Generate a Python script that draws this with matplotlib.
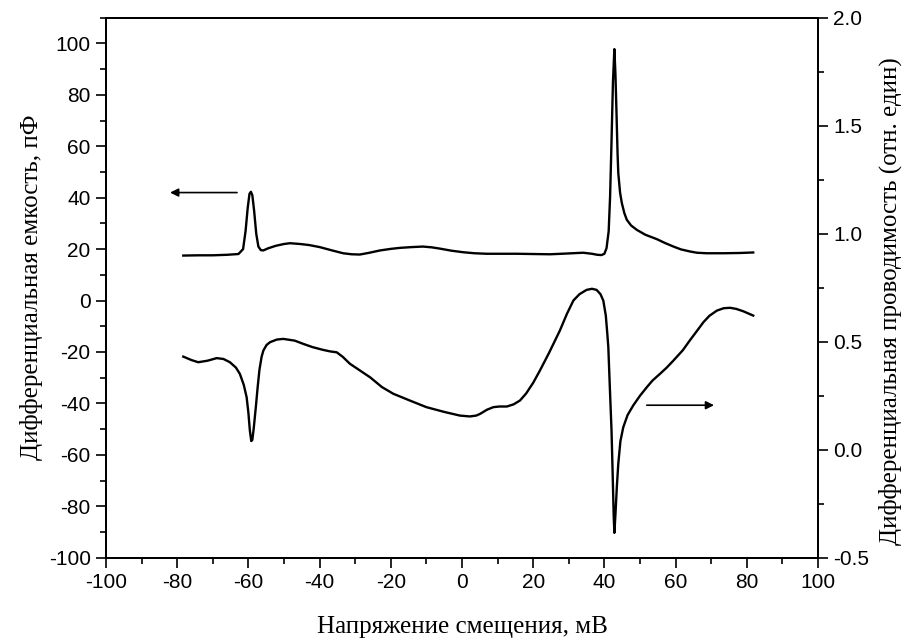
import numpy as np
import matplotlib
matplotlib.use("Agg")
import matplotlib.pyplot as plt
from matplotlib.ticker import MultipleLocator

plt.rcParams["axes.unicode_minus"] = False

# ---------- differential capacitance, pF (left axis) -------------------
cap_v = [-78.3, -74.0, -70.0, -66.0, -62.8, -61.5, -60.8, -60.2, -59.7,
         -59.3, -58.9, -58.4, -57.8, -57.2, -56.5, -55.8, -54.5, -52.3,
         -50.0, -48.3, -45.5, -43.0, -40.0, -36.5, -33.4, -31.0, -28.7,
         -26.0, -23.0, -20.0, -17.4, -14.0, -11.0, -8.5, -6.2, -3.0,
         0.3, 3.5, 6.9, 11.0, 15.4, 20.0, 24.7, 28.0, 31.0, 34.0,
         36.5, 38.0, 39.2, 40.0, 40.6, 41.2, 41.6, 42.0, 42.4, 42.8,
         43.1, 43.4, 43.7, 43.9, 44.4, 44.9, 45.6, 46.3, 47.5, 49.1,
         51.5, 54.7, 57.0, 59.4, 61.5, 64.0, 66.0, 68.7, 73.4, 78.0, 81.8]
cap_pf = [17.5, 17.6, 17.6, 17.8, 18.1, 20.0, 27.0, 36.0, 41.5,
          42.3, 41.0, 35.0, 26.0, 21.0, 19.6, 19.5, 20.3, 21.3,
          22.0, 22.3, 22.0, 21.6, 20.8, 19.5, 18.4, 18.0, 17.9,
          18.6, 19.5, 20.1, 20.5, 20.8, 21.0, 20.7, 20.2, 19.4,
          18.8, 18.4, 18.2, 18.2, 18.2, 18.1, 18.0, 18.2, 18.4, 18.6,
          18.2, 17.8, 17.7, 18.2, 20.4, 27.0, 40.5, 62.0, 85.0, 97.8,
          88.0, 72.9, 57.0, 49.6, 42.0, 37.9, 34.0, 31.4, 29.2, 27.5,
          25.6, 23.9, 22.4, 21.0, 19.9, 19.1, 18.6, 18.4, 18.4, 18.5, 18.7]

# ---------- differential conductance, rel. units (right axis) ----------
cond_v = [-78.3, -76.0, -74.1, -71.5, -68.9, -67.0, -65.2, -63.5, -62.4,
          -61.3, -60.5, -60.0, -59.6, -59.2, -58.9, -58.5, -57.9, -57.4,
          -56.9, -56.3, -55.8, -54.9, -53.9, -52.0, -50.2, -47.0, -44.6,
          -42.0, -39.0, -37.0, -35.2, -33.5, -31.5, -28.7, -25.8, -22.5,
          -19.3, -15.0, -10.0, -5.0, -0.6, 2.2, 4.0, 5.1, 7.0, 8.8,
          10.5, 12.6, 14.5, 16.3, 18.0, 20.0, 21.9, 24.5, 27.5, 29.5,
          31.3, 33.0, 35.0, 36.5, 37.8, 38.9, 39.7, 40.4, 40.8, 41.1,
          41.5, 42.0, 42.3, 42.6, 42.8, 43.1, 43.5, 43.9, 44.5, 45.3,
          46.5, 48.1, 50.0, 51.9, 53.5, 55.6, 57.5, 59.4, 62.0, 64.0,
          66.0, 67.8, 69.5, 71.6, 73.5, 75.3, 77.0, 79.0, 81.8]
cond_g = [0.431, 0.415, 0.405, 0.412, 0.424, 0.420, 0.405, 0.380, 0.351,
          0.300, 0.243, 0.170, 0.090, 0.040, 0.045, 0.100, 0.200, 0.290,
          0.370, 0.430, 0.459, 0.485, 0.498, 0.510, 0.513, 0.505, 0.490,
          0.475, 0.462, 0.455, 0.451, 0.430, 0.398, 0.367, 0.335, 0.290,
          0.259, 0.230, 0.197, 0.175, 0.158, 0.154, 0.158, 0.166, 0.185, 0.197,
          0.200, 0.200, 0.210, 0.228, 0.260, 0.310, 0.367, 0.450, 0.552, 0.630,
          0.691, 0.720, 0.740, 0.745, 0.740, 0.720, 0.690, 0.620, 0.540, 0.475,
          0.300, 0.089, -0.100, -0.300, -0.385, -0.300, -0.170, -0.065, 0.040, 0.104,
          0.160, 0.205, 0.250, 0.289, 0.320, 0.351, 0.380, 0.413, 0.460, 0.506,
          0.550, 0.590, 0.620, 0.644, 0.655, 0.657, 0.652, 0.641, 0.621]

SANS = "Liberation Sans"
SERIF = "Liberation Serif"

fig = plt.figure(figsize=(9.1, 6.44), dpi=100)
ax = fig.add_axes([0.1165, 0.134, 0.7824, 0.8385])
ax2 = ax.twinx()

ax.plot(cap_v, cap_pf, color="black", lw=1.7, solid_joinstyle="round")
ax2.plot(cond_v, cond_g, color="black", lw=1.7, solid_joinstyle="round")

ax.set_xlim(-100, 100)
ax.set_ylim(-100, 110)
ax2.set_ylim(-0.5, 2.0)

ax.xaxis.set_major_locator(MultipleLocator(20))
ax.xaxis.set_minor_locator(MultipleLocator(10))
ax.set_yticks(np.arange(-100, 101, 20))
ax.yaxis.set_minor_locator(MultipleLocator(10))
ax2.set_yticks(np.arange(-0.5, 2.01, 0.5))
ax2.set_yticklabels([f"{v:.1f}" for v in np.arange(-0.5, 2.01, 0.5)])
ax2.yaxis.set_minor_locator(MultipleLocator(0.25))

for a in (ax, ax2):
    a.tick_params(which="major", direction="out", length=7, width=1.2,
                  labelsize=15, pad=4)
    a.tick_params(which="minor", direction="out", length=4, width=1.2)
    for sp in a.spines.values():
        sp.set_linewidth(1.4)
    for lab in a.get_xticklabels() + a.get_yticklabels():
        lab.set_family(SANS)
ax.tick_params(which="both", top=False, right=False)
ax2.tick_params(which="both", left=False)

ax.set_xlabel("Напряжение смещения, мВ", family=SERIF, fontsize=18,
              labelpad=17)
ax.set_ylabel("Дифференциальная емкость, пФ", family=SERIF, fontsize=18,
              labelpad=4)
ax2.set_ylabel("Дифференциальная проводимость (отн. един)", family=SERIF,
               fontsize=18)
ax2.yaxis.set_label_coords(1.085, 0.475)

# arrows pointing to the axis each curve belongs to
ax.annotate("", xy=(-82.0, 42.0), xytext=(-63.2, 42.0),
            arrowprops=dict(arrowstyle="-|>", color="black", lw=1.2,
                            mutation_scale=12, shrinkA=0, shrinkB=0))
ax2.annotate("", xy=(70.8, 0.206), xytext=(51.9, 0.206),
             arrowprops=dict(arrowstyle="-|>", color="black", lw=1.2,
                             mutation_scale=12, shrinkA=0, shrinkB=0))

fig.savefig("out.png", dpi=100)
